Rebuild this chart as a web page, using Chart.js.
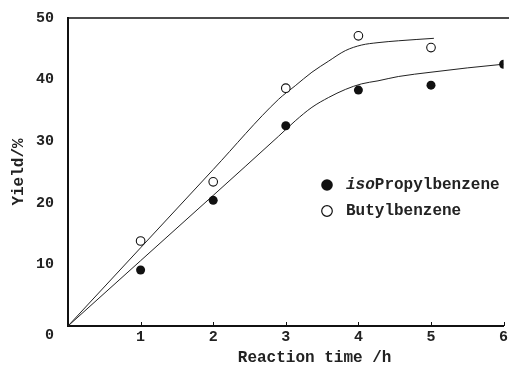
<!DOCTYPE html>
<html><head><meta charset="utf-8">
<script src="https://cdn.jsdelivr.net/npm/chart.js@4/dist/chart.umd.min.js"></script>
<style>html,body{margin:0;padding:0;background:#fff}#wrap{width:509px;height:368px}</style>
</head><body><div id="wrap"><canvas id="c" width="509" height="368"></canvas></div>
<script>
// ---- data ----
const hours = [1, 2, 3, 4, 5, 6];
const isoPropylbenzene = [9.1, 20.4, 32.5, 38.3, 39.1, 42.5];
const butylHours = [1, 2, 3, 4, 5];
const butylbenzene = [13.8, 23.4, 38.6, 47.1, 45.2];
// fitted curves
const isoFitX = [0, 1, 2, 2.9, 3.13, 3.36, 3.59, 3.82, 4.04, 4.27, 4.55, 5.0, 5.5, 6];
const isoFitY = [0, 10.6, 21.2, 30.8, 33.3, 35.5, 37.1, 38.4, 39.3, 39.8, 40.5, 41.2, 41.9, 42.5];
const butylFitX = [0, 1, 2, 2.9, 3.13, 3.36, 3.59, 3.82, 4.04, 4.27, 4.55, 5.04];
const butylFitY = [0, 12.7, 25.4, 36.8, 39.0, 41.2, 43.0, 44.7, 45.6, 46.0, 46.3, 46.7];
const xTickValues = [0, 1, 2, 3, 4, 5, 6];
const yTickValues = [0, 10, 20, 30, 40, 50];
const seriesNames = ['isoPropylbenzene', 'Butylbenzene'];
const xTitle = 'Reaction time /h';
const yTitle = 'Yield/%';

const FONT = '"Liberation Mono", "Courier New", monospace';
const pts = (xs, ys) => xs.map((x, i) => ({x: x, y: ys[i]}));

const decor = {
  id: 'decor',
  afterDraw(chart) {
    const ctx = chart.ctx, a = chart.chartArea, xs = chart.scales.x;
    ctx.save();
    ctx.strokeStyle = '#111';
    // top frame line
    ctx.lineWidth = 1.5;
    ctx.beginPath(); ctx.moveTo(a.left - 1, a.top); ctx.lineTo(chart.width, a.top); ctx.stroke();
    // inward tick marks on x axis
    ctx.lineWidth = 1;
    xTickValues.forEach(v => {
      if (v === 0) return;
      const px = Math.round(xs.getPixelForValue(v)) + 0.5;
      ctx.beginPath(); ctx.moveTo(px, a.bottom); ctx.lineTo(px, a.bottom - 4); ctx.stroke();
    });
    // legend
    const lx = 327, ly1 = 185, ly2 = 211, tx = 346;
    ctx.fillStyle = '#111';
    ctx.beginPath(); ctx.arc(lx, ly1, 5.8, 0, Math.PI * 2); ctx.fill();
    ctx.lineWidth = 1.2;
    ctx.beginPath(); ctx.arc(lx, ly2, 5.3, 0, Math.PI * 2); ctx.stroke();
    ctx.textBaseline = 'middle'; ctx.textAlign = 'left';
    ctx.fillStyle = '#222';
    const name0 = seriesNames[0];
    ctx.font = 'italic bold 16px ' + FONT;
    const it = name0.slice(0, 3);
    ctx.fillText(it, tx, ly1);
    const w = ctx.measureText(it).width;
    ctx.font = 'bold 16px ' + FONT;
    ctx.fillText(name0.slice(3), tx + w, ly1);
    ctx.fillText(seriesNames[1], tx, ly2);
    ctx.restore();
  }
};

new Chart(document.getElementById('c'), {
  type: 'scatter',
  data: {
    datasets: [
      {label: seriesNames[0], data: pts(hours, isoPropylbenzene), pointRadius: 4.5, pointBackgroundColor: '#111', pointBorderColor: '#111', pointBorderWidth: 0, showLine: false},
      {label: seriesNames[1], data: pts(butylHours, butylbenzene), pointRadius: 4.3, pointBackgroundColor: '#fff', pointBorderColor: '#111', pointBorderWidth: 1.1, showLine: false},
      {label: 'fit1', data: pts(isoFitX, isoFitY), showLine: true, pointRadius: 0, borderColor: '#222', borderWidth: 1, cubicInterpolationMode: 'monotone'},
      {label: 'fit2', data: pts(butylFitX, butylFitY), showLine: true, pointRadius: 0, borderColor: '#222', borderWidth: 1, cubicInterpolationMode: 'monotone'}
    ]
  },
  options: {
    responsive: false, animation: false, devicePixelRatio: 1,
    layout: {padding: {top: 18, right: 3, left: 0, bottom: 0}},
    plugins: {legend: {display: false}, tooltip: {enabled: false}},
    scales: {
      x: {
        type: 'linear', min: 0, max: 6,
        afterBuildTicks: s => { s.ticks = xTickValues.map(v => ({value: v})); },
        ticks: {callback: v => v === 0 ? '' : String(v), font: {family: FONT, size: 15, weight: 'bold'}, color: '#222', padding: 2, maxRotation: 0, autoSkip: false},
        grid: {display: false, drawTicks: false},
        border: {display: true, color: '#111', width: 2},
        title: {display: true, text: '      ' + xTitle, font: {family: FONT, size: 16, weight: 'bold'}, color: '#222', padding: {top: 0, bottom: 0}},
        afterFit: s => { s.height = 42; s.paddingLeft = 0; s.paddingRight = 0; }
      },
      y: {
        type: 'linear', min: 0, max: 50,
        afterBuildTicks: s => { s.ticks = yTickValues.map(v => ({value: v})); },
        ticks: {callback: v => v === 0 ? ['', '0'] : String(v), font: {family: FONT, size: 15, weight: 'bold'}, color: '#222', padding: 14, autoSkip: false},
        grid: {display: false, drawTicks: false},
        border: {display: true, color: '#111', width: 2},
        title: {display: true, text: yTitle, font: {family: FONT, size: 16, weight: 'bold'}, color: '#222', padding: {top: 9, bottom: 0}},
        afterFit: s => { s.width = 68; s.paddingTop = 0; s.paddingBottom = 0; }
      }
    }
  },
  plugins: [decor]
});
</script></body></html>
